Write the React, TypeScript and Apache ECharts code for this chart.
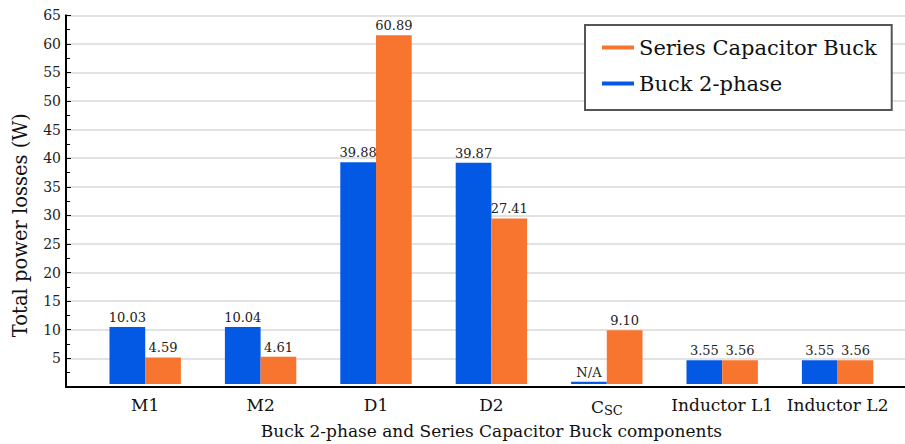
import React, { useEffect, useRef } from "react";
import * as echarts from "echarts";

const categories = ["M1", "M2", "D1", "D2", "C{sub|SC}", "Inductor L1", "Inductor L2"];
// bar heights as drawn in the reference
const buck2Values = [10.05, 10.05, 39.1, 39.0, 0.4, 4.2, 4.2];
const scbValues = [4.7, 4.8, 61.5, 29.2, 9.5, 4.2, 4.2];
// printed labels
const buck2Labels = ["10.03", "10.04", "39.88", "39.87", "N/A", "3.55", "3.55"];
const scbLabels = ["4.59", "4.61", "60.89", "27.41", "9.10", "3.56", "3.56"];
const yMin = 0;
const yMax = 65;
const yInterval = 5;

const FONT = "DejaVu Serif";
const BLUE = "#0359e4";
const ORANGE = "#f7752f";

export default function App() {
  const ref = useRef<HTMLDivElement>(null);
  useEffect(() => {
    if (!ref.current) return;
    const chart = echarts.init(ref.current, undefined, { renderer: "svg" });
    const top = 15.3;
    const bottom = 57.1;
    chart.setOption({
      animation: false,
      backgroundColor: "#ffffff",
      textStyle: { fontFamily: FONT },
      grid: [
        { left: 66, right: 0, top, bottom },
        { left: 87.5, right: 9.7, top, bottom },
      ],
      legend: {
        left: 585,
        top: 25,
        orient: "vertical",
        data: ["Series Capacitor Buck", "Buck 2-phase"],
        icon: "rect",
        itemWidth: 32,
        itemHeight: 4,
        itemGap: 13,
        padding: [11, 15, 15, 17],
        borderColor: "#555555",
        borderWidth: 2,
        backgroundColor: "#ffffff",
        textStyle: { fontFamily: FONT, fontSize: 21, color: "#111", lineHeight: 23 },
      },
      xAxis: [
        {
          gridIndex: 0,
          type: "value",
          min: 0,
          max: 1,
          axisLine: { show: true, lineStyle: { color: "#000", width: 2 } },
          axisTick: { show: false },
          axisLabel: { show: false },
          splitLine: { show: false },
        },
        {
          gridIndex: 1,
          type: "category",
          data: categories,
          axisLine: { show: false },
          axisTick: { show: false },
          axisLabel: {
            fontFamily: FONT,
            fontSize: 17,
            color: "#111",
            margin: 12,
            interval: 0,
            rich: {
              sub: { fontFamily: FONT, fontSize: 13, color: "#111", padding: [8, 0, 0, 0] },
            },
          },
          name: "Buck 2-phase and Series Capacitor Buck components",
          nameLocation: "middle",
          nameGap: 37,
          nameTextStyle: { fontFamily: FONT, fontSize: 17, color: "#111" },
        },
      ],
      yAxis: [
        {
          gridIndex: 0,
          type: "value",
          min: yMin,
          max: yMax,
          interval: yInterval,
          axisLine: { show: true, lineStyle: { color: "#000", width: 2 } },
          axisTick: { show: true, inside: true, length: 5, lineStyle: { color: "#000" } },
          minorTick: { show: true, splitNumber: 2, length: 4, lineStyle: { color: "#000" } },
          axisLabel: {
            fontFamily: FONT,
            fontSize: 14,
            color: "#222",
            margin: 5,
            formatter: (v: number) => (v === 0 ? "" : String(v)),
          },
          splitLine: { show: true, lineStyle: { color: "#d9d9d9", width: 1.5 } },
          name: "Total power losses (W)",
          nameLocation: "middle",
          nameGap: 36,
          nameTextStyle: { fontFamily: FONT, fontSize: 19.5, color: "#111", padding: [0, 48, 0, 0] },
        },
        {
          gridIndex: 1,
          type: "value",
          min: yMin,
          max: yMax,
          interval: yInterval,
          show: false,
        },
      ],
      series: [
        {
          name: "Buck 2-phase",
          type: "bar",
          xAxisIndex: 1,
          yAxisIndex: 1,
          data: buck2Values,
          barWidth: 35.7,
          barGap: "0%",
          itemStyle: { color: BLUE },
          label: {
            show: true,
            position: "top",
            distance: 3,
            fontFamily: FONT,
            fontSize: 13,
            color: "#222",
            formatter: (p: any) => buck2Labels[p.dataIndex],
          },
        },
        {
          name: "Series Capacitor Buck",
          type: "bar",
          xAxisIndex: 1,
          yAxisIndex: 1,
          data: scbValues,
          barWidth: 35.7,
          barGap: "0%",
          itemStyle: { color: ORANGE },
          label: {
            show: true,
            position: "top",
            distance: 3,
            fontFamily: FONT,
            fontSize: 13,
            color: "#222",
            formatter: (p: any) => scbLabels[p.dataIndex],
          },
        },
      ],
    });
    return () => chart.dispose();
  }, []);
  return (
    <div
      ref={ref}
      style={{ position: "fixed", left: 0, top: 0, width: 905, height: 444, background: "#fff" }}
    />
  );
}
